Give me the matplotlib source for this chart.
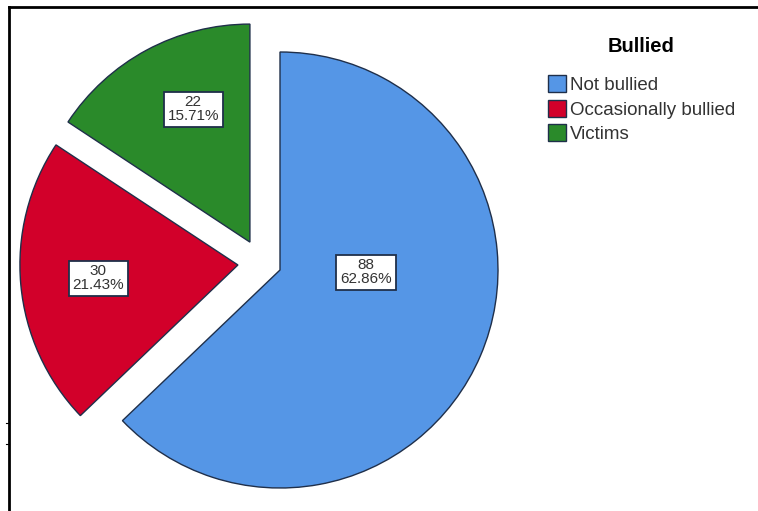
import matplotlib.pyplot as plt
from matplotlib.lines import Line2D
from matplotlib.patches import Patch

# Bullied categories (counts from the chart)
categories = ["Not bullied", "Occasionally bullied", "Victims"]
counts = [88, 30, 22]
percents = ["62.86%", "21.43%", "15.71%"]
colors = ["#5596e6", "#d2002a", "#2a8a2a"]

plt.rcParams['font.family'] = ['Liberation Sans', 'DejaVu Sans']

W, H = 758, 511
fig = plt.figure(figsize=(W / 100, H / 100), dpi=100)
ax = fig.add_axes([0, 0, 1, 1])

wedges, _ = ax.pie(counts, colors=colors, startangle=90, counterclock=False,
                   wedgeprops=dict(edgecolor="#1f2f4a", linewidth=1.0))

# pie centre at pixel (280, 270), radius 218 px
cx, cy, R = 280, 270, 218
ax.set_xlim(-cx / R, (W - cx) / R)
ax.set_ylim(-(H - cy) / R, cy / R)
ax.set_aspect('equal')
ax.axis('off')

# slice offsets (in radius units) as in the SPSS output
offsets = [(0.0, 0.0), (-0.193, 0.023), (-0.138, 0.128)]
for w, (dx, dy) in zip(wedges, offsets):
    w.set_center((dx, dy))

# label positions relative to each slice centre
label_pos = [(0.395, -0.01), (-0.64, -0.06), (-0.26, 0.61)]
for (dx, dy), (lx, ly), n, p in zip(offsets, label_pos, counts, percents):
    ax.text(dx + lx, dy + ly, f"{n}\n{p}", ha="center", va="center",
            fontsize=11, color="#333333", linespacing=0.95,
            bbox=dict(boxstyle="square,pad=0.25", fc="white",
                      ec="#1f2f4a", lw=1.3))

handles = [Patch(facecolor=c, edgecolor="#1f2f4a", lw=1.0) for c in colors]
leg = fig.legend(handles, categories, loc="upper left",
                 bbox_to_anchor=(548 / W, 1 - 37 / H), frameon=False,
                 title="Bullied", fontsize=13.5, handlelength=0.95,
                 handleheight=1.0, handletextpad=0.2, labelspacing=0.3,
                 borderaxespad=0, borderpad=0)
leg.get_title().set_fontsize(14.5)
leg.get_title().set_fontweight("bold")
leg._legend_box.sep = 14
for t in leg.get_texts():
    t.set_color("#333333")

# frame lines of the output window
fig.add_artist(Line2D([9 / W, 1], [1 - 7 / H, 1 - 7 / H], color="black", lw=2))
fig.add_artist(Line2D([9 / W, 9 / W], [0, 1 - 7 / H], color="black", lw=2))
for ty in (423, 444):
    fig.add_artist(Line2D([6 / W, 9 / W], [1 - ty / H, 1 - ty / H],
                          color="black", lw=0.8))

fig.savefig("out.png", dpi=100)
